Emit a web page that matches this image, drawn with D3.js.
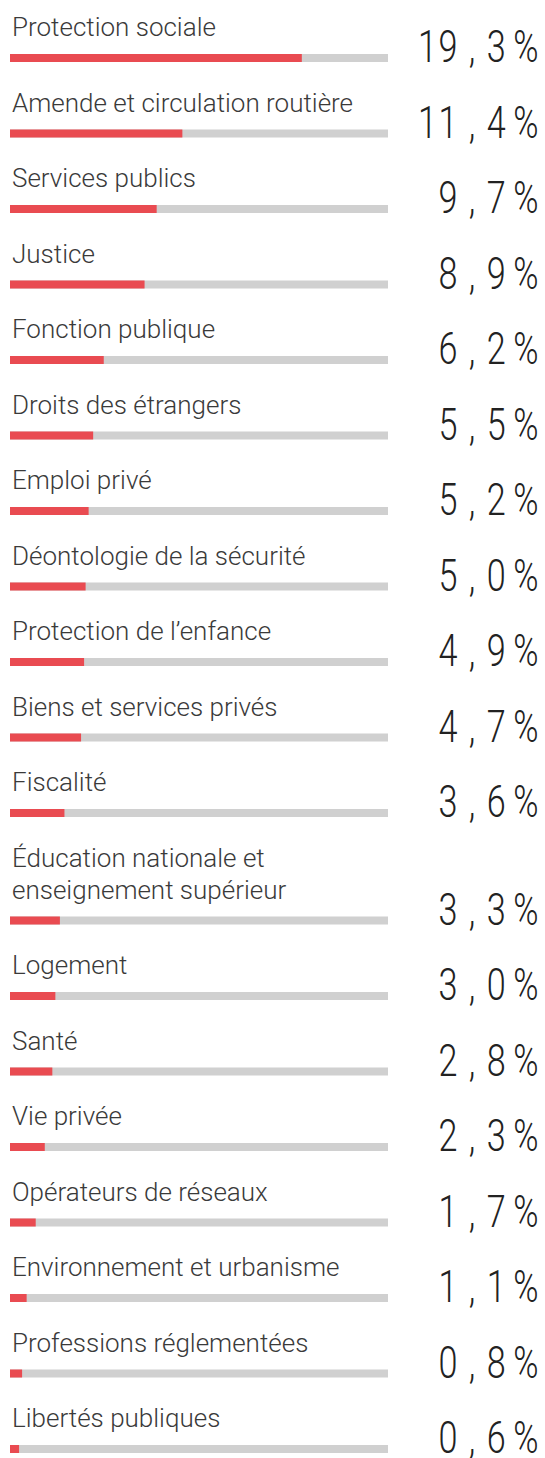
<!DOCTYPE html>
<html>
<head>
<meta charset="utf-8">
<script src="https://cdn.jsdelivr.net/npm/d3@7"></script>
<style>
  body { margin: 0; background: #fff; }
  svg { display: block; }
</style>
</head>
<body>
<div id="chart"></div>
<script>
// ── Data ──
const categories = [
  'Protection sociale',
  'Amende et circulation routière',
  'Services publics',
  'Justice',
  'Fonction publique',
  'Droits des étrangers',
  'Emploi privé',
  'Déontologie de la sécurité',
  'Protection de l’enfance',
  'Biens et services privés',
  'Fiscalité',
  'Éducation nationale et enseignement supérieur',
  'Logement',
  'Santé',
  'Vie privée',
  'Opérateurs de réseaux',
  'Environnement et urbanisme',
  'Professions réglementées',
  'Libertés publiques'
];
const shares = [19.3, 11.4, 9.7, 8.9, 6.2, 5.5, 5.2, 5.0, 4.9, 4.7, 3.6, 3.3, 3.0, 2.8, 2.3, 1.7, 1.1, 0.8, 0.6];
const scaleMax = 25;

const width = 545, height = 1458;
const barLeft = 10, barRight = 388, barH = 8;
const rowStep = 75.5, lineH = 32;

const svg = d3.select('#chart')
  .append('svg')
  .attr('width', width)
  .attr('height', height);

const x = d3.scaleLinear()
  .domain([0, scaleMax])
  .range([barLeft, barRight]);

// "19,3" written the way the figure sets it: "19 , 3"
const fmt = v => d3.format('.1f')(v).replace('.', ' , ');

// ── Rows ──
let extra = 0;
categories.forEach((cat, i) => {
  const top = i * rowStep + extra;
  const g = svg.append('g').attr('transform', `translate(0,${top})`);

  // label, wrapped to bar width
  const label = g.append('text')
    .attr('x', 12)
    .attr('y', 36)
    .attr('fill', '#3a3a3a')
    .style('font-family', 'Roboto, sans-serif')
    .style('font-weight', 300)
    .style('font-size', '26px');
  const words = cat.split(' ');
  let line = [], lineNo = 0;
  let tspan = label.append('tspan').attr('x', 12).attr('dy', 0);
  words.forEach(w => {
    line.push(w);
    tspan.text(line.join(' '));
    if (tspan.node().getComputedTextLength() > barRight - barLeft && line.length > 1) {
      line.pop();
      tspan.text(line.join(' '));
      line = [w];
      lineNo++;
      tspan = label.append('tspan').attr('x', 12).attr('dy', lineH).text(w);
    }
  });
  const shift = lineNo * lineH;

  // track + bar
  g.append('rect')
    .attr('x', x(0))
    .attr('y', 54 + shift)
    .attr('width', x(scaleMax) - x(0))
    .attr('height', barH)
    .attr('fill', '#d0d0d0');
  g.append('rect')
    .attr('x', x(0))
    .attr('y', 54 + shift)
    .attr('width', x(shares[i]) - x(0))
    .attr('height', barH)
    .attr('fill', '#e94b51');

  // value
  const val = g.append('text')
    .attr('transform', `translate(540,${62 + shift}) scale(0.76,1)`)
    .attr('text-anchor', 'end')
    .attr('fill', '#222')
    .style('font-family', 'Roboto, sans-serif')
    .style('font-weight', 300)
    .style('font-size', '45px')
    .style('letter-spacing', '2px');
  val.append('tspan').text(fmt(shares[i]));
  val.append('tspan').attr('dx', 8).text('%');

  extra += shift;
});
</script>
</body>
</html>
